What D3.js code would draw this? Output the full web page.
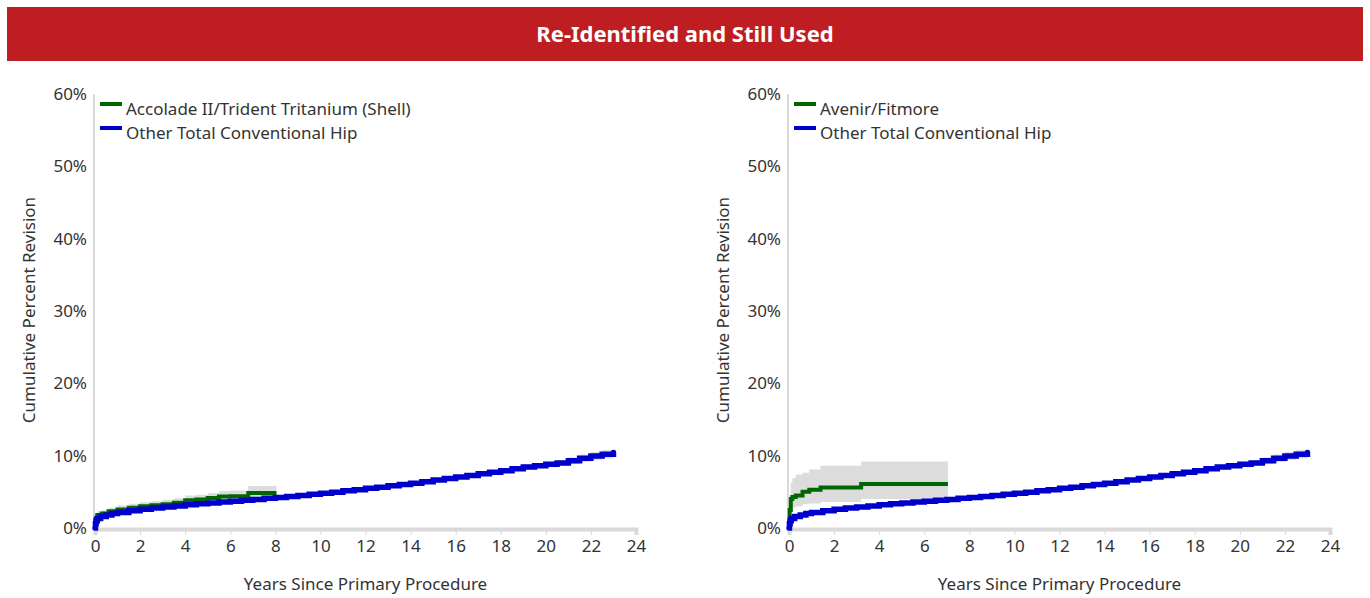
<!DOCTYPE html>
<html><head><meta charset="utf-8">
<script src="https://cdn.jsdelivr.net/npm/d3@7"></script>
<style>body{margin:0;background:#fff;}svg{display:block;}text{font-family:"Noto Sans","Open Sans",sans-serif;}</style>
</head><body><svg id="c" width="1370" height="598"></svg>
<script>
const title = "Re-Identified and Still Used";
const xTicks = [0,2,4,6,8,10,12,14,16,18,20,22,24];
const yTicks = [0,10,20,30,40,50,60];
const xLabel = "Years Since Primary Procedure";
const yLabel = "Cumulative Percent Revision";

// Other Total Conventional Hip (shared in both panels)
const otherT =  [0,0.02,0.05,0.1,0.25,0.5,0.75,1,1.5,2,2.5,3,3.5,4,4.5,5,5.5,6,6.5,7,7.5,8,8.5,9,9.5,10,10.5,11,11.5,12,12.5,13,13.5,14,14.5,15,15.5,16,16.5,17,17.5,18,18.5,19,19.5,20,20.5,21,21.5,22,22.5,23];
const otherV =  [0,0.6,1.0,1.3,1.6,1.8,2.0,2.15,2.4,2.6,2.75,2.9,3.05,3.2,3.35,3.45,3.6,3.7,3.85,3.95,4.1,4.2,4.35,4.5,4.65,4.8,4.95,5.15,5.3,5.5,5.65,5.85,6.0,6.2,6.4,6.65,6.85,7.05,7.25,7.5,7.7,7.9,8.2,8.45,8.6,8.8,9.0,9.3,9.65,9.95,10.2,10.45];
const otherLo = [0,0.5,0.9,1.2,1.5,1.7,1.9,2.05,2.3,2.5,2.65,2.8,2.95,3.1,3.25,3.35,3.5,3.6,3.75,3.85,4.0,4.1,4.25,4.4,4.55,4.7,4.85,5.0,5.15,5.35,5.5,5.7,5.85,6.0,6.2,6.45,6.6,6.8,7.0,7.2,7.4,7.6,7.85,8.1,8.25,8.4,8.6,8.85,9.15,9.4,9.6,9.7];
const otherHi = [0,0.7,1.1,1.4,1.7,1.9,2.1,2.25,2.5,2.7,2.85,3.0,3.15,3.3,3.45,3.55,3.7,3.8,3.95,4.05,4.2,4.3,4.45,4.6,4.75,4.9,5.05,5.3,5.45,5.65,5.8,6.0,6.15,6.4,6.6,6.85,7.1,7.3,7.5,7.8,8.0,8.2,8.55,8.8,8.95,9.2,9.4,9.75,10.15,10.5,10.8,11.3];

// Accolade II/Trident Tritanium (Shell)
const accT  = [0,0.03,0.1,0.3,0.6,1,1.5,2,2.5,3,3.5,4,4.5,5,5.5,6,6.8,7.2,8.05];
const accV  = [0,1.3,1.8,2.0,2.3,2.55,2.8,3.0,3.15,3.3,3.5,3.85,3.95,4.15,4.35,4.4,4.85,4.85,4.85];
const accLo = [0,0.9,1.3,1.5,1.8,2.05,2.3,2.5,2.65,2.8,2.95,3.25,3.35,3.5,3.7,3.75,4.1,4.1,4.1];
const accHi = [0,1.8,2.3,2.5,2.8,3.1,3.35,3.55,3.7,3.9,4.1,4.5,4.6,4.85,5.1,5.2,5.8,5.8,5.8];

// Avenir/Fitmore
const aveT  = [0,0.03,0.08,0.15,0.3,0.6,0.9,1.4,3.2,7.05];
const aveV  = [0,2.5,4.0,4.3,4.5,5.0,5.3,5.6,6.1,6.1];
const aveLo = [0,1.2,2.5,2.8,3.0,3.3,3.4,3.6,4.0,4.0];
const aveHi = [0,4.5,6.3,6.9,7.4,7.65,8.1,8.6,9.2,9.2];

const panels = [
  {x0:95, x1:636, name:"Accolade II/Trident Tritanium (Shell)", t:accT, v:accV, lo:accLo, hi:accHi},
  {x0:789, x1:1330, name:"Avenir/Fitmore", t:aveT, v:aveV, lo:aveLo, hi:aveHi}
];
const otherName = "Other Total Conventional Hip";
const green = "#006600", blue = "#0000CC", band = "#DCDCDC", txt = "#333333";
const fs = 17;

const svg = d3.select("#c");
svg.append("rect").attr("x",7).attr("y",7).attr("width",1356).attr("height",54).attr("fill","#BE1E21");
svg.append("text").attr("x",685).attr("y",33).attr("text-anchor","middle").attr("dominant-baseline","central")
  .attr("fill","#fff").attr("font-size",22).attr("font-weight","bold").text(title);

const yTop = 94, yBot = 528;
panels.forEach(p => {
  const x = d3.scaleLinear().domain([0,24]).range([p.x0,p.x1]);
  const y = d3.scaleLinear().domain([0,60]).range([yBot,yTop]);
  const g = svg.append("g");
  const rows = (T,V,L,H) => T.map((t,i)=>({t, v:V[i], lo:L[i], hi:H[i]}));
  const area = d3.area().curve(d3.curveStepAfter).x(d=>x(d.t)).y0(d=>y(d.lo)).y1(d=>y(d.hi));
  const line = d3.line().curve(d3.curveStepAfter).x(d=>x(d.t)).y(d=>y(d.v));
  const oth = rows(otherT,otherV,otherLo,otherHi), sp = rows(p.t,p.v,p.lo,p.hi);
  g.append("path").attr("d",area(oth)).attr("fill",band);
  g.append("path").attr("d",area(sp)).attr("fill",band);
  // axes
  g.append("line").attr("x1",p.x0-1).attr("x2",p.x0-1).attr("y1",yTop).attr("y2",yBot).attr("stroke","#D9D9D9").attr("stroke-width",2);
  const xa = g.append("g").attr("transform",`translate(0,${yBot+1})`)
    .call(d3.axisBottom(x).tickValues(xTicks).tickSize(6).tickFormat(d3.format("d")));
  xa.select(".domain").attr("stroke","#D9D9D9").attr("stroke-width",4);
  xa.selectAll(".tick line").attr("stroke","#D9D9D9");
  xa.selectAll(".tick text").attr("font-size",fs).attr("fill",txt).attr("font-family","'Noto Sans',sans-serif").attr("dy","0.85em");
  const ya = g.append("g").attr("transform",`translate(${p.x0-2},0)`)
    .call(d3.axisLeft(y).tickValues(yTicks).tickSize(0).tickPadding(6).tickFormat(d=>d+"%"));
  ya.select(".domain").remove();
  ya.selectAll(".tick text").attr("font-size",fs).attr("fill",txt).attr("font-family","'Noto Sans',sans-serif");
  g.append("path").attr("d",line(sp)).attr("fill","none").attr("stroke",green).attr("stroke-width",4);
  g.append("path").attr("d",line(oth)).attr("fill","none").attr("stroke",blue).attr("stroke-width",5.5).attr("stroke-linecap","round");
  // labels
  g.append("text").attr("x",(p.x0+p.x1)/2).attr("y",583).attr("text-anchor","middle").attr("dominant-baseline","central")
    .attr("font-size",fs).attr("fill",txt).text(xLabel);
  g.append("text").attr("transform",`translate(${p.x0-67},310) rotate(-90)`).attr("text-anchor","middle").attr("dominant-baseline","central")
    .attr("font-size",fs).attr("fill",txt).text(yLabel);
  // legend
  [[p.name,green,104],[otherName,blue,128]].forEach(([n,c,yy])=>{
    g.append("line").attr("x1",p.x0+5).attr("x2",p.x0+27).attr("y1",yy).attr("y2",yy).attr("stroke",c).attr("stroke-width",4);
    g.append("text").attr("x",p.x0+31).attr("y",yy+4).attr("dominant-baseline","central").attr("font-size",fs).attr("fill",txt).text(n);
  });
});
</script></body></html>
